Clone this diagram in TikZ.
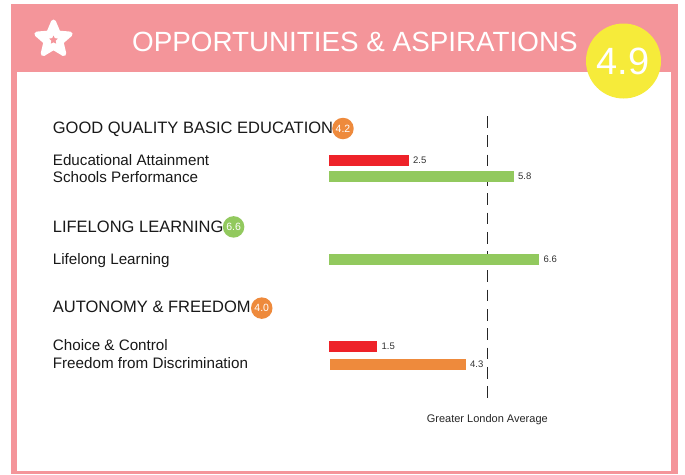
\documentclass[tikz,border=0pt]{standalone}
\usepackage{fontspec}
\setmainfont{Liberation Sans}
\usepackage{xcolor}
\usetikzlibrary{shapes,calc,positioning}
\definecolor{headpink}{HTML}{F4959A}
\definecolor{barred}{HTML}{EE2229}
\definecolor{bargreen}{HTML}{92C95E}
\definecolor{barorange}{HTML}{EE8A3C}
\definecolor{scoreyellow}{HTML}{F6EB3A}
\definecolor{valgray}{HTML}{333333}

\begin{document}
\begin{tikzpicture}[
	x=1pt, y=-1pt,
	head/.style = {inner sep=0, anchor=base west, text=black!90,
	font=\fontsize{16.5}{20}\selectfont},
	item/.style = {inner sep=0, anchor=base west, text=black!90,
	font=\fontsize{15.2}{18}\selectfont},
	badge/.style = {circle, inner sep=0, minimum size=21.5pt, anchor=west,
	text=white, font=\fontsize{10.5}{12}\selectfont},
	bar/.style = {rectangle, inner sep=0, minimum height=10.7pt, anchor=north west},
	val/.style = {inner sep=0, text=valgray, font=\fontsize{9.5}{10}\selectfont}
]
\useasboundingbox (0,0) rectangle (685,474);
% frame and header
\fill[headpink] (11,4) rectangle (678,474);
\fill[white] (17,72) rectangle (671,471);
\node[star, star points=5, star point ratio=2.2, fill=white, draw=white,
	line width=5pt, line join=round, minimum size=35pt, inner sep=0] (icon) at (53.5,39.5) {};
\node[star, star points=5, star point ratio=2, fill=headpink,
	minimum size=9pt, inner sep=0] (iconin) at (53.5,40) {};
\node[inner sep=0, anchor=base west, text=white,
	font=\fontsize{27.8}{30}\selectfont] (title) at (132,51) {OPPORTUNITIES \& ASPIRATIONS};
\node[circle, fill=scoreyellow, minimum size=75pt, inner sep=0] (score) at (623.5,61) {};
\node[inner sep=0, anchor=base, text=white,
	font=\fontsize{38}{40}\selectfont] (scoretxt) at (623,74) {4.9};

% greater london average
\coordinate (avgtop) at (487.3,116);
\coordinate (avgbot) at (487.3,401);
\draw[black!85, line width=1pt, dash pattern=on 11.7pt off 7.6pt] (avgtop) -- (avgbot);
\node[val, anchor=base, text=black!85, font=\fontsize{11}{12}\selectfont,
	below=13pt of avgbot] (avg) {Greater London Average};

% good quality basic education
\node[head] (edu) at (52.7,133.3) {GOOD QUALITY BASIC EDUCATION};
\node[badge, fill=barorange] (edubadge) at ([xshift=-1.3pt, yshift=4.8pt]edu.base east) {4.2};
\node[item] (attain) at (52.7,165.3) {Educational Attainment};
\node[item] (school) at (52.7,182.7) {Schools Performance};
\node[bar, fill=barred, minimum width=79.5pt] (attainbar) at (329,155) {};
\node[val, right=4pt of attainbar] {2.5};
\node[bar, fill=bargreen, minimum width=184.5pt] (schoolbar) at (329,171) {};
\node[val, right=4pt of schoolbar] {5.8};

% lifelong learning
\node[head] (life) at (52.7,232.3) {LIFELONG LEARNING};
\node[badge, fill=bargreen] (lifebadge) at ([xshift=-1pt, yshift=5.4pt]life.base east) {6.6};
\node[item] (lifeitem) at (52.7,264.3) {Lifelong Learning};
\node[bar, fill=bargreen, minimum width=210pt] (lifebar) at (329,254) {};
\node[val, right=4pt of lifebar] {6.6};

% autonomy and freedom
\node[head] (auto) at (52.7,312.7) {AUTONOMY \& FREEDOM};
\node[badge, fill=barorange] (autobadge) at ([xshift=0pt, yshift=4.6pt]auto.base east) {4.0};
\node[item] (choice) at (52.7,350.7) {Choice \& Control};
\node[item] (discr) at (52.7,368.3) {Freedom from Discrimination};
\node[bar, fill=barred, minimum width=48pt] (choicebar) at (329,341) {};
\node[val, right=4pt of choicebar] {1.5};
\node[bar, fill=barorange, minimum width=135.5pt] (discrbar) at (330,359) {};
\node[val, right=4pt of discrbar] {4.3};
\end{tikzpicture}
\end{document}
